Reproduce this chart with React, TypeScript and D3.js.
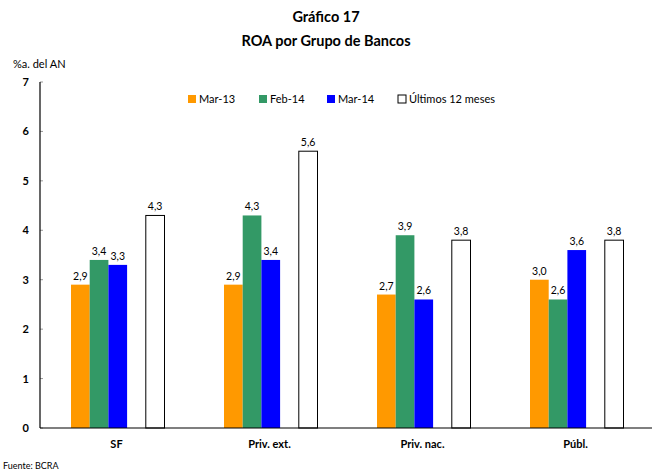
import React, { useEffect, useRef } from 'react';
import * as d3 from 'd3';

const categories = ['SF', 'Priv. ext.', 'Priv. nac.', 'Públ.'];
const seriesNames = ['Mar-13', 'Feb-14', 'Mar-14', 'Últimos 12 meses'];
const mar13 = [2.9, 2.9, 2.7, 3.0];
const feb14 = [3.4, 4.3, 3.9, 2.6];
const mar14 = [3.3, 3.4, 2.6, 3.6];
const ultimos12 = [4.3, 5.6, 3.8, 3.8];
const yTicks = [0, 1, 2, 3, 4, 5, 6, 7];

const colors = ['#FF9900', '#339966', '#0000FF', '#FFFFFF'];
// slot index inside each group (slot 3 stays empty)
const slots = [0, 1, 2, 4];

const App = () => {
  const ref = useRef<SVGSVGElement>(null);

  useEffect(() => {
    const svg = d3.select(ref.current);
    svg.selectAll('*').remove();
    const font = 'Lato, "DejaVu Sans", sans-serif';

    const left = 40, right = 652, top = 82, bottom = 428;
    const x = d3.scaleBand<string>().domain(categories).range([left, right]);
    const inner = d3.scaleBand<number>().domain([0, 1, 2, 3, 4])
      .range([31, x.bandwidth() - 28.5]);
    const y = d3.scaleLinear().domain([0, 7]).range([bottom, top]);

    const data = [mar13, feb14, mar14, ultimos12];

    // title
    svg.append('text').attr('x', 326).attr('y', 22).attr('text-anchor', 'middle')
      .style('font-family', font).style('font-weight', 'bold').style('font-size', '14.5px')
      .text('Gráfico 17');
    svg.append('text').attr('x', 326).attr('y', 46).attr('text-anchor', 'middle')
      .style('font-family', font).style('font-weight', 'bold').style('font-size', '14.5px')
      .text('ROA por Grupo de Bancos');

    svg.append('text').attr('x', 13).attr('y', 68)
      .style('font-family', font).style('font-size', '11px').text('%a. del AN');

    // y ticks
    const ty = svg.append('g');
    yTicks.forEach(t => {
      ty.append('line').attr('x1', left).attr('x2', left + 3)
        .attr('y1', y(t)).attr('y2', y(t)).attr('stroke', '#999').attr('stroke-width', 1);
      ty.append('text').attr('x', 29).attr('y', y(t) + 4).attr('text-anchor', 'end')
        .style('font-family', font).style('font-weight', 'bold').style('font-size', '11px')
        .text(String(t));
    });

    // bars
    data.forEach((vals, si) => {
      const g = svg.append('g');
      vals.forEach((v, ci) => {
        const bx = (x(categories[ci]) as number) + (inner(slots[si]) as number);
        const w = inner.bandwidth();
        g.append('rect').attr('x', bx).attr('y', y(v)).attr('width', w)
          .attr('height', y(0) - y(v)).attr('fill', colors[si])
          .attr('stroke', si === 3 ? '#000' : 'none').attr('stroke-width', 1);
        g.append('text').attr('x', bx + w / 2).attr('y', y(v) - 5).attr('text-anchor', 'middle')
          .style('font-family', font).style('font-size', '10.5px')
          .text(v.toFixed(1).replace('.', ','));
      });
    });

    // axes
    svg.append('line').attr('x1', left).attr('x2', left).attr('y1', top).attr('y2', bottom)
      .attr('stroke', '#000').attr('stroke-width', 1.2);
    svg.append('line').attr('x1', left).attr('x2', right).attr('y1', bottom).attr('y2', bottom)
      .attr('stroke', '#000').attr('stroke-width', 1.2);

    categories.forEach(c => {
      svg.append('text').attr('x', (x(c) as number) + x.bandwidth() / 2).attr('y', 448)
        .attr('text-anchor', 'middle')
        .style('font-family', font).style('font-weight', 'bold').style('font-size', '11px')
        .text(c);
    });

    // legend
    const legX = [188, 259, 327, 398];
    seriesNames.forEach((n, i) => {
      svg.append('rect').attr('x', legX[i]).attr('y', 95).attr('width', 8).attr('height', 8)
        .attr('fill', colors[i]).attr('stroke', i === 3 ? '#000' : 'none');
      svg.append('text').attr('x', legX[i] + 11).attr('y', 103)
        .style('font-family', font).style('font-size', '11px').text(n);
    });

    svg.append('text').attr('x', 3).attr('y', 469)
      .style('font-family', font).style('font-size', '9px').text('Fuente: BCRA');
  }, []);

  return (
    <svg ref={ref} width={653} height={474}
      style={{ position: 'absolute', left: 0, top: 0, background: '#fff' }} />
  );
};

export default App;
